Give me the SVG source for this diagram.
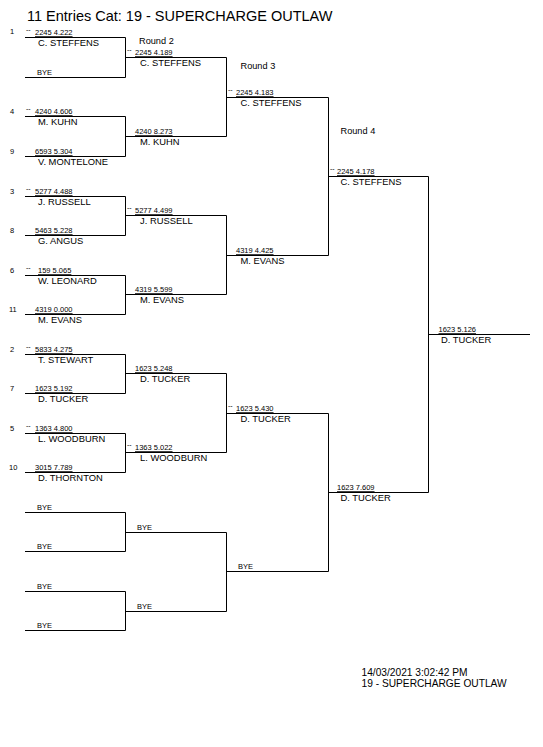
<svg xmlns="http://www.w3.org/2000/svg" width="543" height="747" viewBox="0 0 543 747">
<style>
text{font-family:"Liberation Sans",Arial,sans-serif;fill:#000}
.t{font-size:14.5px}
.r{font-size:9.2px}
.f{font-size:10.2px}
.s{font-size:7.5px;text-decoration:underline}
.n{font-size:9.4px}
.b{font-size:7.5px}
.d{font-size:7px}
.q{font-size:7.5px}
.ln{stroke:#000;stroke-width:1;fill:none}
</style>
<rect width="543" height="747" fill="#fff"/>
<text class="t" x="27" y="21">11 Entries Cat: 19 - SUPERCHARGE OUTLAW</text>
<text class="r" x="139" y="44">Round 2</text>
<text class="r" x="240.5" y="69">Round 3</text>
<text class="r" x="340.5" y="134">Round 4</text>
<text class="f" x="361.5" y="676">14/03/2021 3:02:42 PM</text>
<text class="f" x="361.5" y="687">19 - SUPERCHARGE OUTLAW</text>
<g id="connectors" class="ln">
<path d="M25 37.5H125.5V77.5H25M25 116.5H125.5V156.5H25M25 196.5H125.5V235.5H25M25 275.5H125.5V314.5H25M25 354.5H125.5V393.5H25M25 433.5H125.5V472.5H25M25 512.5H125.5V551.5H25M25 591.5H125.5V630.5H25"/>
<path d="M125.5 57.5H226.5V136.5H125.5M125.5 215.5H226.5V294.5H125.5M125.5 373.5H226.5V452.5H125.5M125.5 532.5H226.5V611.5H125.5"/>
<path d="M226.5 97.5H328.5V255.5H226.5M226.5 413.5H328.5V571.5H226.5"/>
<path d="M328.5 176.5H428.5V492.5H328.5"/>
<path d="M428.5 334.5H530"/>
</g>
<g id="r1-1"><text class="q" x="10" y="34">1</text><text class="d" x="26" y="32">--</text><text class="s" x="35" y="35">2245 4.222</text><text class="n" x="38" y="45.5">C. STEFFENS</text></g>
<g id="r1-2"><text class="b" x="37" y="75">BYE</text></g>
<g id="r1-3"><text class="q" x="10" y="113.5">4</text><text class="d" x="26" y="111">--</text><text class="s" x="35" y="114">4240 4.606</text><text class="n" x="38" y="124.5">M. KUHN</text></g>
<g id="r1-4"><text class="q" x="10" y="153.5">9</text><text class="s" x="35" y="154">6593 5.304</text><text class="n" x="38" y="164.5">V. MONTELONE</text></g>
<g id="r1-5"><text class="q" x="10" y="193.5">3</text><text class="d" x="26" y="191">--</text><text class="s" x="35" y="194">5277 4.488</text><text class="n" x="38" y="204.5">J. RUSSELL</text></g>
<g id="r1-6"><text class="q" x="10" y="232.5">8</text><text class="s" x="35" y="233">5463 5.228</text><text class="n" x="38" y="243.5">G. ANGUS</text></g>
<g id="r1-7"><text class="q" x="10" y="272.5">6</text><text class="d" x="26" y="270">--</text><text class="s" x="38" y="273">159 5.065</text><text class="n" x="38" y="283.5">W. LEONARD</text></g>
<g id="r1-8"><text class="q" x="9" y="311.5">11</text><text class="s" x="35" y="312">4319 0.000</text><text class="n" x="38" y="322.5">M. EVANS</text></g>
<g id="r1-9"><text class="q" x="10" y="351.5">2</text><text class="d" x="26" y="349">--</text><text class="s" x="35" y="352">5833 4.275</text><text class="n" x="38" y="362.5">T. STEWART</text></g>
<g id="r1-10"><text class="q" x="10" y="390.5">7</text><text class="s" x="35" y="391">1623 5.192</text><text class="n" x="38" y="401.5">D. TUCKER</text></g>
<g id="r1-11"><text class="q" x="10" y="430.5">5</text><text class="d" x="26" y="428">--</text><text class="s" x="35" y="431">1363 4.800</text><text class="n" x="38" y="441.5">L. WOODBURN</text></g>
<g id="r1-12"><text class="q" x="9" y="469.5">10</text><text class="s" x="35" y="470">3015 7.789</text><text class="n" x="38" y="480.5">D. THORNTON</text></g>
<g id="r1-13"><text class="b" x="37" y="510">BYE</text></g>
<g id="r1-14"><text class="b" x="37" y="549">BYE</text></g>
<g id="r1-15"><text class="b" x="37" y="589">BYE</text></g>
<g id="r1-16"><text class="b" x="37" y="628">BYE</text></g>
<g id="r2-1"><text class="d" x="127" y="52">--</text><text class="s" x="135" y="55">2245 4.189</text><text class="n" x="140" y="65.5">C. STEFFENS</text></g>
<g id="r2-2"><text class="s" x="135" y="134">4240 8.273</text><text class="n" x="140" y="144.5">M. KUHN</text></g>
<g id="r2-3"><text class="d" x="127" y="210">--</text><text class="s" x="135" y="213">5277 4.499</text><text class="n" x="140" y="223.5">J. RUSSELL</text></g>
<g id="r2-4"><text class="s" x="135" y="292">4319 5.599</text><text class="n" x="140" y="302.5">M. EVANS</text></g>
<g id="r2-5"><text class="s" x="135" y="371">1623 5.248</text><text class="n" x="140" y="381.5">D. TUCKER</text></g>
<g id="r2-6"><text class="d" x="127" y="447">--</text><text class="s" x="135" y="450">1363 5.022</text><text class="n" x="140" y="460.5">L. WOODBURN</text></g>
<g id="r2-7"><text class="b" x="137" y="530">BYE</text></g>
<g id="r2-8"><text class="b" x="137" y="609">BYE</text></g>
<g id="r3-1"><text class="d" x="228" y="92">--</text><text class="s" x="236" y="95">2245 4.183</text><text class="n" x="240.5" y="105.5">C. STEFFENS</text></g>
<g id="r3-2"><text class="s" x="236" y="253">4319 4.425</text><text class="n" x="240.5" y="263.5">M. EVANS</text></g>
<g id="r3-3"><text class="d" x="228" y="408">--</text><text class="s" x="236" y="411">1623 5.430</text><text class="n" x="240.5" y="421.5">D. TUCKER</text></g>
<g id="r3-4"><text class="b" x="238" y="569">BYE</text></g>
<g id="r4-1"><text class="d" x="330" y="171">--</text><text class="s" x="337" y="174">2245 4.178</text><text class="n" x="340.5" y="184.5">C. STEFFENS</text></g>
<g id="r4-2"><text class="s" x="337" y="490">1623 7.609</text><text class="n" x="340.5" y="500.5">D. TUCKER</text></g>
<g id="final"><text class="s" x="438.5" y="332">1623 5.126</text><text class="n" x="441" y="342.5">D. TUCKER</text></g>
</svg>
